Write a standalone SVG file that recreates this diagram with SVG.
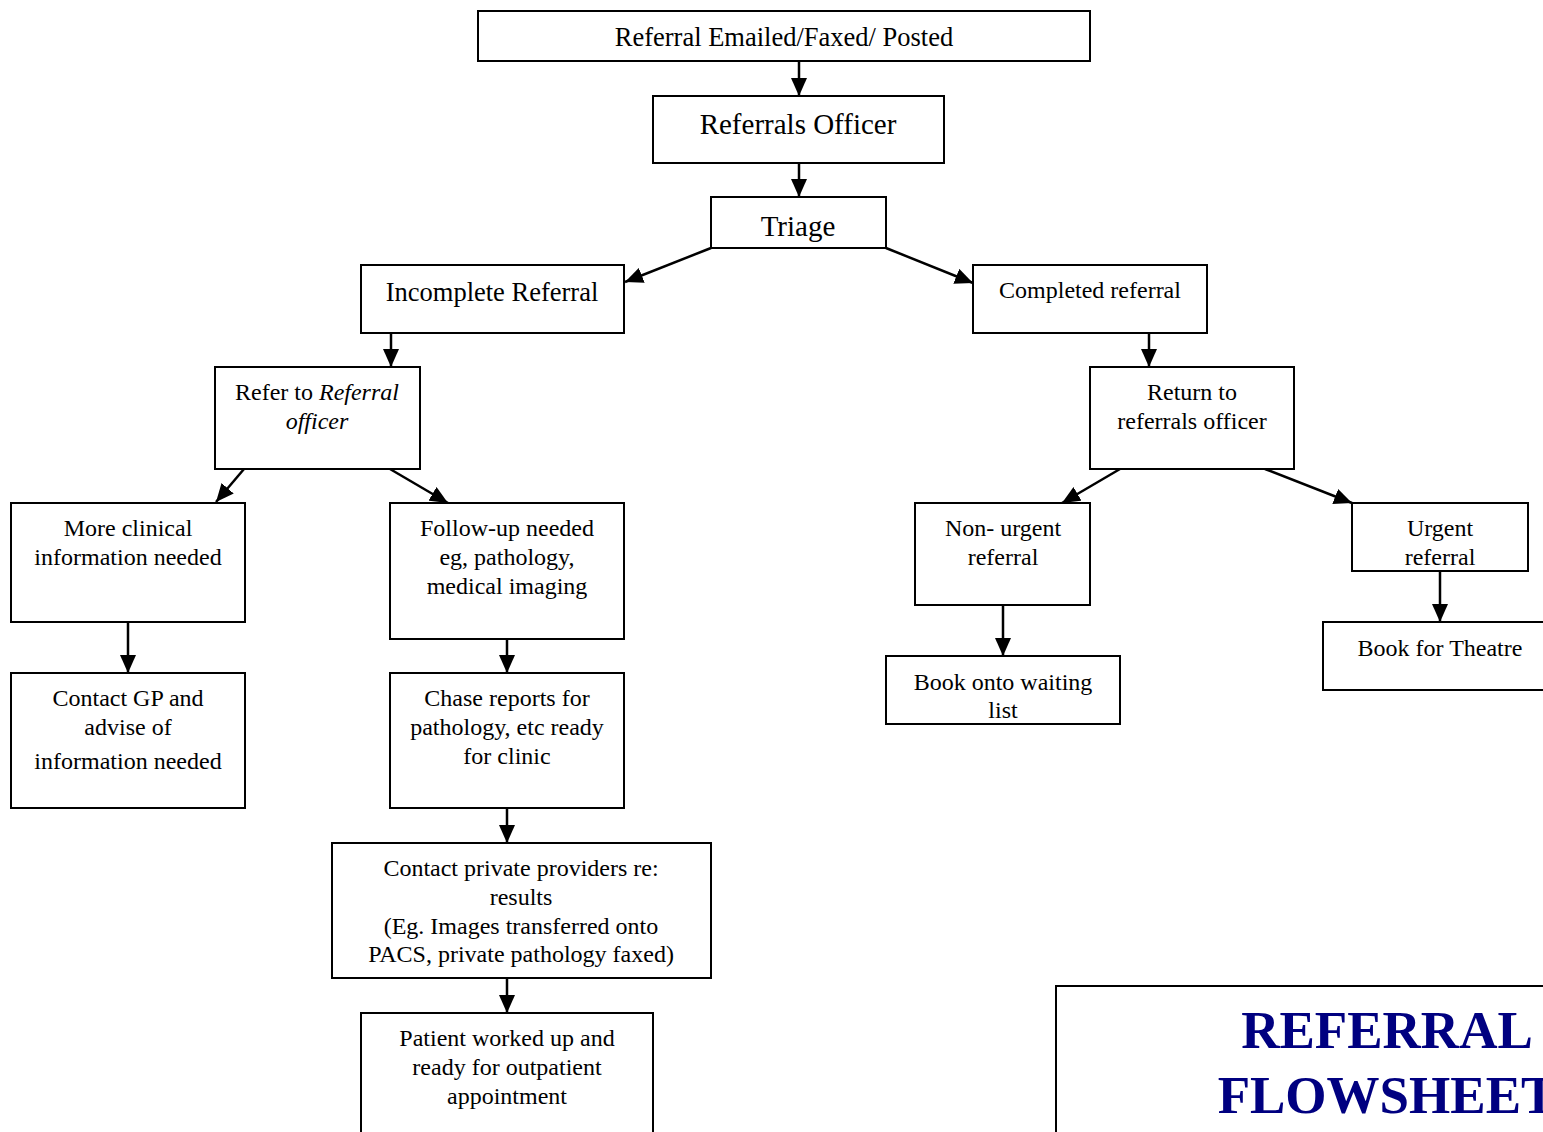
<svg xmlns="http://www.w3.org/2000/svg" width="1543" height="1132" viewBox="0 0 1543 1132">
<style>
rect.b{fill:#fff;stroke:#000;stroke-width:2}
text{font-family:"Liberation Serif","Times New Roman",serif;fill:#000;text-anchor:middle;font-size:24px}
.l{font-size:26.5px}
.xl{font-size:29px}
.it{font-style:italic}
.title{font-weight:bold;font-size:53px;fill:#000080}
#connectors line{stroke:#000;stroke-width:2.5;marker-end:url(#ah)}
</style>
<defs>
<marker id="ah" markerUnits="userSpaceOnUse" markerWidth="18" markerHeight="16" refX="18" refY="8" orient="auto">
<path d="M0,0 L18,8 L0,16 z" fill="#000"/>
</marker>
</defs>
<rect width="1543" height="1132" fill="#fff"/>
<g id="connectors">
<line x1="799" y1="61" x2="799" y2="96"/>
<line x1="799" y1="163" x2="799" y2="197"/>
<line x1="711" y1="248" x2="625" y2="282"/>
<line x1="886" y1="248" x2="973" y2="283"/>
<line x1="391" y1="333" x2="391" y2="367"/>
<line x1="244" y1="469" x2="216" y2="502"/>
<line x1="390" y1="469" x2="448" y2="503"/>
<line x1="1149" y1="333" x2="1149" y2="367"/>
<line x1="1120" y1="469" x2="1062" y2="503"/>
<line x1="1265" y1="469" x2="1352" y2="503"/>
<line x1="128" y1="622" x2="128" y2="673"/>
<line x1="507" y1="639" x2="507" y2="673"/>
<line x1="1003" y1="605" x2="1003" y2="656"/>
<line x1="1440" y1="571" x2="1440" y2="622"/>
<line x1="507" y1="808" x2="507" y2="843"/>
<line x1="507" y1="978" x2="507" y2="1013"/>
</g>
<g id="n1"><rect class="b" x="478" y="11" width="612" height="50"/><text class="l" x="784" y="46">Referral Emailed/Faxed/ Posted</text></g>
<g id="n2"><rect class="b" x="653" y="96" width="291" height="67"/><text class="xl" x="798" y="134">Referrals Officer</text></g>
<g id="n3"><rect class="b" x="711" y="197" width="175" height="51"/><text class="xl" x="798" y="236">Triage</text></g>
<g id="n4"><rect class="b" x="361" y="265" width="263" height="68"/><text class="l" x="492" y="301">Incomplete Referral</text></g>
<g id="n5"><rect class="b" x="973" y="265" width="234" height="68"/><text x="1090" y="298">Completed referral</text></g>
<g id="n6"><rect class="b" x="215" y="367" width="205" height="102"/><text x="317" y="400">Refer to <tspan class="it">Referral</tspan></text><text class="it" x="317" y="429">officer</text></g>
<g id="n7"><rect class="b" x="1090" y="367" width="204" height="102"/><text x="1192" y="400">Return to</text><text x="1192" y="429">referrals officer</text></g>
<g id="n8"><rect class="b" x="11" y="503" width="234" height="119"/><text x="128" y="536">More clinical</text><text x="128" y="565">information needed</text></g>
<g id="n9"><rect class="b" x="390" y="503" width="234" height="136"/><text x="507" y="536">Follow-up needed</text><text x="507" y="565">eg, pathology,</text><text x="507" y="594">medical imaging</text></g>
<g id="n10"><rect class="b" x="915" y="503" width="175" height="102"/><text x="1003" y="536">Non- urgent</text><text x="1003" y="565">referral</text></g>
<g id="n11"><rect class="b" x="1352" y="503" width="176" height="68"/><text x="1440" y="536">Urgent</text><text x="1440" y="565">referral</text></g>
<g id="n12"><rect class="b" x="11" y="673" width="234" height="135"/><text x="128" y="706">Contact GP and</text><text x="128" y="735">advise of</text><text x="128" y="769">information needed</text></g>
<g id="n13"><rect class="b" x="390" y="673" width="234" height="135"/><text x="507" y="706">Chase reports for</text><text x="507" y="735">pathology, etc ready</text><text x="507" y="764">for clinic</text></g>
<g id="n14"><rect class="b" x="886" y="656" width="234" height="68"/><text x="1003" y="690">Book onto waiting</text><text x="1003" y="718">list</text></g>
<g id="n15"><rect class="b" x="1323" y="622" width="240" height="68"/><text x="1440" y="656">Book for Theatre</text></g>
<g id="n16"><rect class="b" x="332" y="843" width="379" height="135"/><text x="521" y="876">Contact private providers re:</text><text x="521" y="905">results</text><text x="521" y="934">(Eg. Images transferred onto</text><text x="521" y="962">PACS, private pathology faxed)</text></g>
<g id="n17"><rect class="b" x="361" y="1013" width="292" height="130"/><text x="507" y="1046">Patient worked up and</text><text x="507" y="1075">ready for outpatient</text><text x="507" y="1104">appointment</text></g>
<g id="title"><rect class="b" x="1056" y="986" width="520" height="160"/><text class="title" x="1387" y="1048">REFERRAL</text><text class="title" x="1387" y="1113">FLOWSHEET</text></g>
</svg>
